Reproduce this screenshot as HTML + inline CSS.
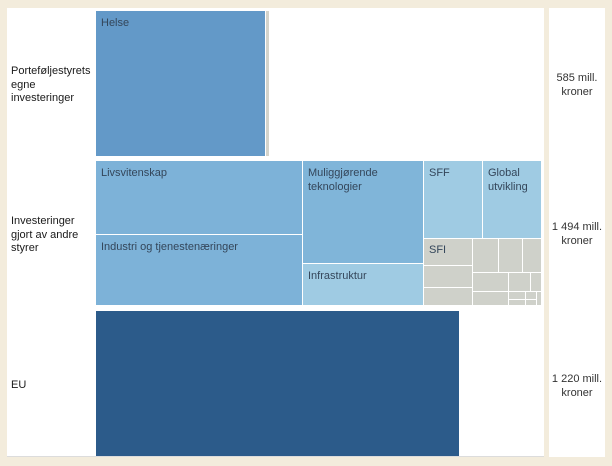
<!DOCTYPE html>
<html><head><meta charset="utf-8"><style>
*{margin:0;padding:0;box-sizing:border-box}
body{width:612px;height:466px;background:#f3ecdc;position:relative;overflow:hidden;font-family:"Liberation Sans",sans-serif}
.p{position:absolute;background:#fff}
.b{position:absolute;font-size:11px;line-height:13.5px;color:#34465a;padding:6px 0 0 5px}
.l{position:absolute;font-size:11px;line-height:13.5px;color:#1a1a1a}
.r{position:absolute;font-size:11px;line-height:13.5px;color:#333;text-align:center;width:56px}
.g{position:absolute;background:#cfd1ca}
</style></head><body>
<div class="p" style="left:7px;top:8px;width:537px;height:449px;border-bottom:1px solid #dcdcdc"></div>
<div class="p" style="left:549px;top:8px;width:56px;height:449px"></div>

<div class="l" style="left:11px;top:65px">Porteføljestyrets<br>egne<br>investeringer</div>
<div class="l" style="left:11px;top:215px">Investeringer<br>gjort av andre<br>styrer</div>
<div class="l" style="left:11px;top:379px">EU</div>

<div class="r" style="left:549px;top:72px">585 mill.<br>kroner</div>
<div class="r" style="left:549px;top:221px">1 494 mill.<br>kroner</div>
<div class="r" style="left:549px;top:373px">1 220 mill.<br>kroner</div>

<!-- row 1 -->
<div class="b" style="left:96px;top:11px;width:169px;height:145px;background:#6399c8">Helse</div>
<div class="g" style="left:266px;top:11px;width:3px;height:145px;background:#d4d4cc"></div>

<!-- row 2 -->
<div class="b" style="left:96px;top:161px;width:206px;height:73px;background:#7db2d8">Livsvitenskap</div>
<div class="b" style="left:96px;top:235px;width:206px;height:70px;background:#7db2d8">Industri og tjenestenæringer</div>
<div class="b" style="left:303px;top:161px;width:120px;height:102px;background:#80b5d9">Muliggjørende<br>teknologier</div>
<div class="b" style="left:303px;top:264px;width:120px;height:41px;background:#9fcbe3">Infrastruktur</div>
<div class="b" style="left:424px;top:161px;width:58px;height:77px;background:#9fcbe3">SFF</div>
<div class="b" style="left:483px;top:161px;width:58px;height:77px;background:#9fcbe3">Global<br>utvikling</div>

<div class="b" style="left:424px;top:239px;width:48px;height:26px;background:#cfd1ca;padding-top:5px">SFI</div>
<div class="g" style="left:424px;top:266px;width:48px;height:21px"></div>
<div class="g" style="left:424px;top:288px;width:48px;height:17px"></div>

<div class="g" style="left:473px;top:239px;width:25px;height:33px"></div>
<div class="g" style="left:499px;top:239px;width:23px;height:33px"></div>
<div class="g" style="left:523px;top:239px;width:18px;height:33px"></div>

<div class="g" style="left:473px;top:273px;width:35px;height:18px"></div>
<div class="g" style="left:509px;top:273px;width:21px;height:18px"></div>
<div class="g" style="left:531px;top:273px;width:10px;height:18px"></div>

<div class="g" style="left:473px;top:292px;width:35px;height:13px"></div>
<div class="g" style="left:509px;top:292px;width:16px;height:7px"></div>
<div class="g" style="left:509px;top:300px;width:16px;height:5px"></div>
<div class="g" style="left:526px;top:292px;width:10px;height:7px"></div>
<div class="g" style="left:526px;top:300px;width:10px;height:5px"></div>
<div class="g" style="left:537px;top:292px;width:4px;height:13px"></div>

<!-- row 3 -->
<div class="b" style="left:96px;top:311px;width:363px;height:145px;background:#2c5b8a"></div>
</body></html>
